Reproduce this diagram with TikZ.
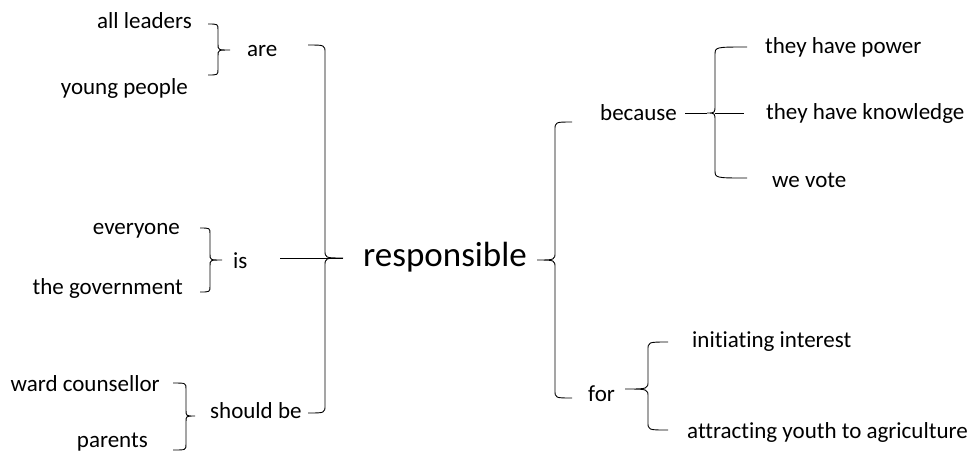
\documentclass[tikz,border=0pt]{standalone}
\usepackage{fontspec}
\setmainfont{Carlito}[Ligatures=NoCommon]
\newcommand\bracepath[7]{% x0 ytop ybot xv xt ym r
  \draw[brace] (#1,#2) .. controls (#4,#2) .. (#4,#2+#7) -- (#4,#6-#7)
    .. controls (#4,#6) .. (#5,#6) .. controls (#4,#6) .. (#4,#6+#7)
    -- (#4,#3-#7) .. controls (#4,#3) .. (#1,#3);}
\begin{document}
\begin{tikzpicture}[x=1pt,y=-1pt,
  lbl/.style={inner sep=0pt,font=\fontsize{23}{27}\selectfont},
  big/.style={inner sep=0pt,font=\fontsize{35}{41}\selectfont},
  brace/.style={draw=black,line width=0.9pt},
  conn/.style={draw=black,line width=0.9pt}]
\useasboundingbox (0,0) rectangle (973,451);
% left column
\node[lbl,anchor=base east] (allleaders) at (192,28) {all leaders};
\node[lbl,anchor=base east] (young) at (188,94) {young people};
\node[lbl,anchor=base west] (are) at (247,56) {are};
\node[lbl,anchor=base east] (everyone) at (180,234) {everyone};
\node[lbl,anchor=base east] (govt) at (183,294) {the government};
\node[lbl,anchor=base west] (is) at (233,268) {is};
\node[lbl,anchor=base east] (ward) at (160,391) {ward counsellor};
\node[lbl,anchor=base east] (parents) at (148,447) {parents};
\node[lbl,anchor=base west] (shouldbe) at (210,418) {should be};
% centre
\node[big,anchor=base west] (resp) at (363,266) {responsible};
% right
\node[lbl,anchor=base west] (because) at (600,120) {because};
\node[lbl,anchor=base west] (power) at (765,53) {they have power};
\node[lbl,anchor=base west] (knowledge) at (766,119) {they have knowledge};
\node[lbl,anchor=base west] (vote) at (772,187) {we vote};
\node[lbl,anchor=base west] (for) at (588,401) {for};
\node[lbl,anchor=base west] (initiating) at (692,347) {initiating interest};
\node[lbl,anchor=base west] (attracting) at (687,438) {attracting youth to agriculture};
% braces
\bracepath{208}{24}{75}{218}{230}{50}{6}
\bracepath{200}{228}{292}{210}{222}{260}{6}
\bracepath{173}{383}{450}{186}{195}{416}{6}
\bracepath{308}{45}{413}{325}{343}{258}{8}
\bracepath{572}{122}{398}{555}{537}{260}{8}
\bracepath{747}{47}{178}{715}{707}{113}{8}
\bracepath{668}{342}{430}{648}{625}{389}{8}
% connectors
\coordinate (isend) at (280,258);
\coordinate (bcstart) at (685,113);
\coordinate (bctip) at (707,113);
\draw[conn] (isend) -- (343,258);
\draw[conn] (bcstart) -- (bctip);
\draw[conn] (715,113) -- (744,113);
\end{tikzpicture}
\end{document}
